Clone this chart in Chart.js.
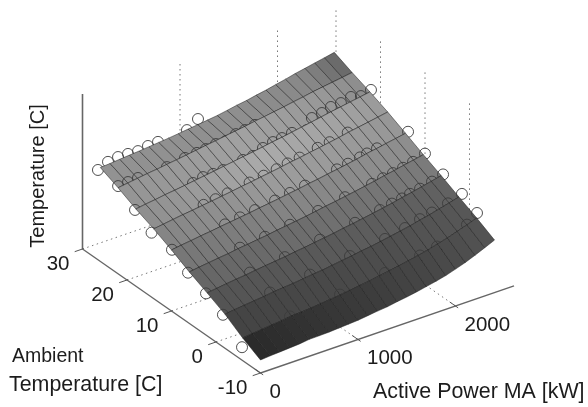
<!DOCTYPE html>
<html>
<head>
<meta charset="utf-8">
<title>Temperature surface</title>
<script src="https://cdn.jsdelivr.net/npm/chart.js@4"></script>
<style>
  html, body { margin: 0; background: #fff; }
  canvas { display: block; filter: blur(0.4px); }
</style>
</head>
<body>
<canvas id="surfaceChart" width="588" height="407"></canvas>
<script>
// grid of the fitted surface
const powerGrid = [0, 100, 200, 300, 400, 500, 600, 700, 800, 900, 1000, 1100, 1200, 1300, 1400, 1500, 1600, 1700, 1800, 1900, 2000, 2100, 2200, 2300, 2400];
const ambientGrid = [-10, -6, -2, 2, 6, 10, 14, 18, 22, 26];
const tempAtM10 = [8.4, 8.9, 9.3, 9.7, 10.1, 10.9, 11.0, 11.2, 11.6, 12.0, 12.4, 13.2, 14.0, 14.6, 15.7, 16.6, 17.7, 19.0, 20.3, 21.8, 23.8, 25.9, 28.4, 31.1, 33.9];
const tempAtM6 = [14.6, 15.3, 15.9, 16.6, 17.1, 18.0, 18.3, 18.8, 19.4, 20.1, 20.8, 21.6, 22.5, 23.3, 24.4, 25.4, 26.5, 27.7, 29.0, 30.4, 32.1, 33.8, 35.8, 37.9, 40.1];
const tempAtM2 = [22, 22.7, 23.4, 24.1, 24.7, 25.6, 26.1, 26.7, 27.4, 28.2, 28.8, 29.7, 30.6, 31.4, 32.5, 33.3, 34.4, 35.5, 36.7, 37.9, 39.4, 40.8, 42.4, 44.0, 45.7];
const tempAt2 = [27.7, 28.5, 29.3, 30.1, 30.7, 31.6, 32.3, 33.0, 33.8, 34.7, 35.4, 36.3, 37.2, 38.1, 39.2, 40.1, 41.2, 42.3, 43.4, 44.6, 46.0, 47.2, 48.6, 50.0, 51.5];
const tempAt6 = [33.2, 34.1, 34.9, 35.7, 36.4, 37.4, 38.1, 38.9, 39.7, 40.7, 41.5, 42.4, 43.3, 44.3, 45.4, 46.3, 47.4, 48.4, 49.6, 50.7, 52.1, 53.2, 54.5, 55.7, 57.0];
const tempAt10 = [39.4, 40.3, 41.1, 42.0, 42.7, 43.6, 44.4, 45.2, 46.0, 47.0, 47.8, 48.7, 49.7, 50.6, 51.7, 52.6, 53.7, 54.7, 55.8, 56.9, 58.3, 59.3, 60.5, 61.6, 62.8];
const tempAt14 = [45, 45.9, 46.8, 47.7, 48.4, 49.3, 50.1, 51.0, 51.9, 52.9, 53.7, 54.7, 55.6, 56.6, 57.7, 58.6, 59.7, 60.7, 61.8, 62.9, 64.2, 65.2, 66.3, 67.4, 68.5];
const tempAt18 = [49.8, 50.8, 51.6, 52.6, 53.3, 54.2, 55.1, 56.0, 56.9, 57.9, 58.8, 59.8, 60.7, 61.7, 62.8, 63.7, 64.8, 65.9, 67.0, 68.1, 69.3, 70.3, 71.4, 72.4, 73.5];
const tempAt22 = [55.5, 56.4, 57.3, 58.2, 58.9, 59.8, 60.6, 61.5, 62.4, 63.4, 64.2, 65.2, 66.1, 67.0, 68.1, 69.0, 70.0, 71.0, 72.1, 73.1, 74.3, 75.2, 76.1, 77.0, 78.0];
const tempAt26 = [60.6, 61.0, 61.6, 62.1, 62.6, 63.2, 63.8, 64.4, 65.1, 65.9, 66.6, 67.4, 68.2, 69.3, 70.5, 71.4, 72.7, 73.8, 75.2, 76.5, 78.0, 79.2, 80.5, 81.7, 83.0];
const tempRows = [tempAtM10, tempAtM6, tempAtM2, tempAt2, tempAt6, tempAt10, tempAt14, tempAt18, tempAt22, tempAt26];

// measured points, one power and one temperature list per ambient line
const measuredPowerM6 = [-7, 485, 998, 1459, 1819, 1993, 2300, 2403];
const measuredTempM6 = [8.8, 18, 21, 25, 28.5, 30.5, 38, 43.3];
const measuredPowerM2 = [-20, 463, 873, 1283, 1642, 1847, 2001, 2124, 2288, 2431];
const measuredTempM2 = [22, 25.9, 28.6, 31.7, 35, 37.6, 40, 41.6, 44, 47];
const measuredPower2 = [-11, 439, 798, 1158, 1517, 1773, 1896, 1999, 2081, 2184, 2307, 2420];
const measuredTemp2 = [27.6, 31.3, 33.5, 37, 40.1, 42.8, 44.3, 45.4, 46.6, 47.7, 49.6, 51.8];
const measuredPower6 = [-13, 520, 776, 1033, 1321, 1597, 1874, 1987, 2089, 2192, 2295, 2417];
const measuredTemp6 = [33, 37.6, 39.1, 41.3, 44, 46.9, 49.5, 50.7, 51.8, 53, 54.6, 57.3];
const measuredPower10 = [5, 549, 703, 856, 1062, 1215, 1369, 1697, 1810, 1933, 2005, 2108, 2426];
const measuredTemp10 = [39.4, 44, 45.2, 46.6, 48.3, 49.9, 51.3, 54.7, 55.9, 57.3, 58.3, 59.4, 63.2];
const measuredPower14 = [-22, 512, 635, 758, 984, 1128, 1261, 1374, 1497, 1682, 1805, 1990];
const measuredTemp14 = [43, 49.4, 50.4, 51.5, 53.6, 54.9, 56.2, 57.5, 58.6, 60.9, 61.9, 64.1];
const measuredPower18 = [-9, 586, 689, 792, 895, 1098, 1200, 1303, 1406, 1498, 1601, 1754, 1805, 1908, 2000, 2103, 2206, 2308, 2411];
const measuredTemp18 = [49.4, 53.9, 55.5, 55.3, 55.6, 57.7, 58.1, 61, 62.6, 63.2, 64.3, 62.8, 69.5, 70.5, 72.4, 72.7, 74.4, 72.8, 74.5];
const measuredPower22 = [0, 102, 204, 501, 686, 809, 901, 1004, 1107, 1209, 1302, 1404];
const measuredTemp22 = [56.6, 57, 57.4, 58, 59.9, 60.5, 61, 62, 61.7, 64, 64.6, 65.7];
const measuredPower26 = [-24, 79, 182, 284, 387, 489, 592, 889, 1002];
const measuredTemp26 = [59.5, 62.5, 63.4, 63.2, 62.8, 63.9, 64.3, 65.5, 70.2];
const measuredPower = [[], measuredPowerM6, measuredPowerM2, measuredPower2, measuredPower6, measuredPower10, measuredPower14, measuredPower18, measuredPower22, measuredPower26];
const measuredTemp = [[], measuredTempM6, measuredTempM2, measuredTemp2, measuredTemp6, measuredTemp10, measuredTemp14, measuredTemp18, measuredTemp22, measuredTemp26];

// axes
const ambientTicks = [-10, 0, 10, 20, 30];
const powerTicks = [0, 1000, 2000];
const powerMax = 2600;
const tempMax = 100;

// grey of each facet row at a few places along the power direction
const shadeStops = [0, 0.5, 0.85, 1];
const shadeLow = [0x2a, 0x44, 0x54, 0x66, 0x76, 0x84, 0x8e, 0x94, 0x92];
const shadeMid = [0x3c, 0x4a, 0x5a, 0x6e, 0x86, 0x9c, 0xaa, 0xa2, 0x90];
const shadeLate = [0x4c, 0x54, 0x60, 0x78, 0x8e, 0x9a, 0xa2, 0x98, 0x88];
const shadeHigh = [0x54, 0x58, 0x62, 0x7c, 0x8e, 0x96, 0x9a, 0x8c, 0x66];

// oblique view of the MATLAB box
const project = (power, ambient, temp) => ({
  x: 260.5 + 0.0975 * power - 4.45 * (ambient + 10),
  y: 373 - 0.0335 * power - 3.1 * (ambient + 10) - 1.55 * temp
});

const facetColor = (row, col) => {
  const t = (col + 0.5) / (powerGrid.length - 1);
  const vals = [shadeLow[row], shadeMid[row], shadeLate[row], shadeHigh[row]];
  let k = 0;
  while (k < 2 && t > shadeStops[k + 1]) k++;
  const f = (t - shadeStops[k]) / (shadeStops[k + 1] - shadeStops[k]);
  const v = Math.round(vals[k] + (vals[k + 1] - vals[k]) * f);
  return `rgb(${v},${v},${v})`;
};

const painted = [];
const addLine = (points, color, width, dash) => painted.push({
  data: points, showLine: true, pointRadius: 0, fill: false,
  borderColor: color, borderWidth: width, borderDash: dash || []
});

// dotted box grid
const dots = [1.5, 3.5];
ambientTicks.slice(1).forEach(a => {
  addLine([project(0, a, 0), project(powerMax, a, 0)], '#777', 1, dots);
});
powerTicks.slice(1).forEach(p => {
  addLine([project(p, -10, 0), project(p, 30, 0)], '#777', 1, dots);
  addLine([project(p, 30, 0), project(p, 30, tempMax)], '#777', 1, dots);
});
ambientTicks.slice(1).forEach(a => {
  addLine([project(powerMax, a, 0), project(powerMax, a, tempMax)], '#777', 1, dots);
});

// solid axes and ticks
addLine([project(0, -10, 0), project(0, 30, 0)], '#666', 1.4);
addLine([project(0, -10, 0), project(powerMax, -10, 0)], '#666', 1.4);
addLine([project(0, 30, 0), project(0, 30, tempMax)], '#666', 1.6);
ambientTicks.forEach(a => addLine([project(-80, a, 0), project(10, a, 0)], '#555', 1));
powerTicks.forEach(p => addLine([project(p, -8.7, 0), project(p, -10.6, 0)], '#555', 1));

// back to front, so the facets in front cover the lower half of each circle
for (let r = ambientGrid.length - 1; r >= 0; r--) {
  if (measuredPower[r].length) {
    painted.push({
      data: measuredPower[r].map((p, i) => project(p, ambientGrid[r], measuredTemp[r][i])),
      showLine: false, pointStyle: 'circle', pointRadius: 5.5,
      pointBackgroundColor: 'rgba(0,0,0,0)', pointBorderColor: '#3c3c3c', pointBorderWidth: 0.9
    });
  }
  if (r === 0) break;
  for (let c = 0; c < powerGrid.length - 1; c++) {
    const a0 = ambientGrid[r - 1];
    const a1 = ambientGrid[r];
    const corners = [
      project(powerGrid[c], a0, tempRows[r - 1][c]),
      project(powerGrid[c + 1], a0, tempRows[r - 1][c + 1]),
      project(powerGrid[c + 1], a1, tempRows[r][c + 1]),
      project(powerGrid[c], a1, tempRows[r][c])
    ];
    corners.push(corners[0]);
    painted.push({
      data: corners, showLine: true, pointRadius: 0, fill: 'shape',
      backgroundColor: facetColor(r - 1, c),
      borderColor: 'rgba(24,24,24,0.62)', borderWidth: 0.8
    });
  }
}

const datasets = painted.map((d, i) => ({ ...d, order: painted.length - i }));

const textFont = '"Liberation Sans", Arial, sans-serif';
const textColor = '#1c1c1c';
const labelsPlugin = {
  id: 'boxLabels',
  afterDraw(chart) {
    const { ctx, scales } = chart;
    const at = (pt) => ({ x: scales.x.getPixelForValue(pt.x), y: scales.y.getPixelForValue(pt.y) });
    ctx.save();
    ctx.fillStyle = textColor;
    ctx.textBaseline = 'middle';
    ctx.font = '20.5px ' + textFont;
    ctx.textAlign = 'right';
    ambientTicks.forEach(a => {
      const pos = at(project(0, a, 0));
      ctx.fillText(String(a), pos.x - 13, pos.y + 15);
    });
    ctx.textAlign = 'left';
    powerTicks.forEach(p => {
      const pos = at(project(p, -10, 0));
      ctx.fillText(String(p), pos.x + 9, pos.y + 19);
    });
    ctx.font = '21.4px ' + textFont;
    ctx.fillText('Active Power MA [kW]', 373, 392);
    ctx.fillText('Temperature [C]', 9, 385);
    ctx.font = '19.5px ' + textFont;
    ctx.fillText('Ambient', 12, 357);
    ctx.font = '20px ' + textFont;
    ctx.translate(38, 176);
    ctx.rotate(-Math.PI / 2);
    ctx.textAlign = 'center';
    ctx.fillText('Temperature [C]', 0, 0);
    ctx.restore();
  }
};

new Chart(document.getElementById('surfaceChart').getContext('2d'), {
  type: 'scatter',
  data: { datasets },
  options: {
    responsive: false,
    animation: false,
    layout: { padding: 0, autoPadding: false },
    plugins: { legend: { display: false }, tooltip: { enabled: false } },
    scales: {
      x: { type: 'linear', min: 0, max: 588, display: false },
      y: { type: 'linear', min: 0, max: 407, reverse: true, display: false }
    }
  },
  plugins: [labelsPlugin]
});
</script>
</body>
</html>
